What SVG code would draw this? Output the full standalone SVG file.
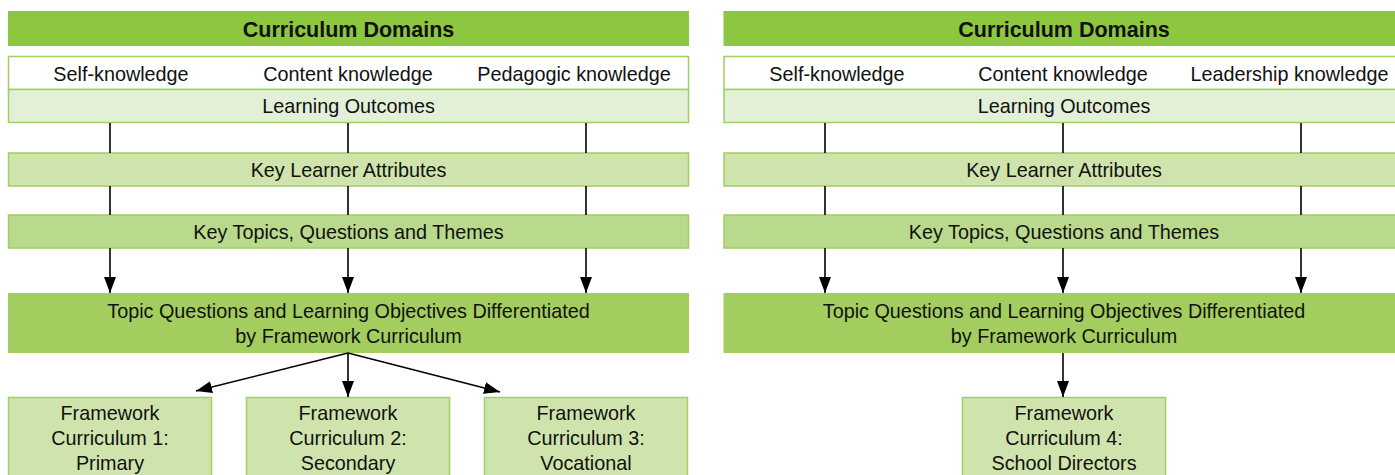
<svg xmlns="http://www.w3.org/2000/svg" width="1395" height="475" viewBox="0 0 1395 475">
<defs>
<marker id="ahb" viewBox="0 0 16 12" refX="16" refY="6" markerWidth="16" markerHeight="12" markerUnits="userSpaceOnUse" orient="auto">
<path d="M0,0 L16,6 L0,12 z" fill="#000"/>
</marker>
</defs>
<style>
text{font-family:"Liberation Sans",Arial,sans-serif;font-size:19.8px;fill:#111;text-anchor:middle}
.t{font-weight:bold;font-size:21.5px}
.hd{fill:#8dc63f}
.b{stroke:#9fd062;stroke-width:1.5}
.w{fill:#fff}
.lo{fill:#e3f0d8}
.ka{fill:#cfe4ad}
.kt{fill:#b9da8d}
.tq{fill:#a3cd5f}
.fc{fill:#cfe4ad}
.c{stroke:#000;stroke-width:1.6;fill:none}
</style>
<rect width="1395" height="475" fill="#fff"/>
<g id="left">
<g id="l-header"><rect class="hd" x="8" y="11" width="681" height="35"/><text class="t" x="348.5" y="37">Curriculum Domains</text></g>
<g id="l-domains"><rect class="w b" x="8.5" y="56.5" width="680" height="33"/>
<text x="121" y="81">Self-knowledge</text><text x="348" y="81">Content knowledge</text><text x="574" y="81">Pedagogic knowledge</text></g>
<g id="l-outcomes"><rect class="lo b" x="8.5" y="89.5" width="680" height="33"/><text x="348.5" y="113">Learning Outcomes</text></g>
<g id="l-attributes"><rect class="ka b" x="8.5" y="153" width="680" height="33"/><text x="348.5" y="177">Key Learner Attributes</text></g>
<g id="l-topics"><rect class="kt b" x="8.5" y="215" width="680" height="33"/><text x="348.5" y="239">Key Topics, Questions and Themes</text></g>
<g id="l-objectives"><rect class="tq" x="8" y="293" width="681" height="60"/><text x="348.5" y="318">Topic Questions and Learning Objectives Differentiated</text><text x="348.5" y="343">by Framework Curriculum</text></g>
<g id="l-fc1"><rect class="fc b" x="8.5" y="397.5" width="203" height="90"/><text x="110" y="420">Framework</text><text x="110" y="445">Curriculum 1:</text><text x="110" y="470">Primary</text></g>
<g id="l-fc2"><rect class="fc b" x="246.5" y="397.5" width="203" height="90"/><text x="348" y="420">Framework</text><text x="348" y="445">Curriculum 2:</text><text x="348" y="470">Secondary</text></g>
<g id="l-fc3"><rect class="fc b" x="484.5" y="397.5" width="203" height="90"/><text x="586" y="420">Framework</text><text x="586" y="445">Curriculum 3:</text><text x="586" y="470">Vocational</text></g>
</g>
<g id="right">
<g id="r-header"><rect class="hd" x="723.5" y="11" width="681" height="35"/><text class="t" x="1064" y="37">Curriculum Domains</text></g>
<g id="r-domains"><rect class="w b" x="724" y="56.5" width="680" height="33"/>
<text x="837" y="81">Self-knowledge</text><text x="1063" y="81">Content knowledge</text><text x="1289.5" y="81">Leadership knowledge</text></g>
<g id="r-outcomes"><rect class="lo b" x="724" y="89.5" width="680" height="33"/><text x="1064" y="113">Learning Outcomes</text></g>
<g id="r-attributes"><rect class="ka b" x="724" y="153" width="680" height="33"/><text x="1064" y="177">Key Learner Attributes</text></g>
<g id="r-topics"><rect class="kt b" x="724" y="215" width="680" height="33"/><text x="1064" y="239">Key Topics, Questions and Themes</text></g>
<g id="r-objectives"><rect class="tq" x="723.5" y="293" width="681" height="60"/><text x="1064" y="318">Topic Questions and Learning Objectives Differentiated</text><text x="1064" y="343">by Framework Curriculum</text></g>
<g id="r-fc4"><rect class="fc b" x="962.5" y="397.5" width="203" height="90"/><text x="1064" y="420">Framework</text><text x="1064" y="445">Curriculum 4:</text><text x="1064" y="470">School Directors</text></g>
</g>
<g id="connectors">
<path class="c" d="M110,123 V153 M348,123 V153 M586,123 V153 M110,186 V215 M348,186 V215 M586,186 V215"/>
<path class="c" d="M825,123 V153 M1063,123 V153 M1301,123 V153 M825,186 V215 M1063,186 V215 M1301,186 V215"/>
<path class="c" marker-end="url(#ahb)" d="M110,248 V293"/>
<path class="c" marker-end="url(#ahb)" d="M348,248 V293"/>
<path class="c" marker-end="url(#ahb)" d="M586,248 V293"/>
<path class="c" marker-end="url(#ahb)" d="M825,248 V293"/>
<path class="c" marker-end="url(#ahb)" d="M1063,248 V293"/>
<path class="c" marker-end="url(#ahb)" d="M1301,248 V293"/>
<path class="c" marker-end="url(#ahb)" d="M348,353 V397"/>
<path class="c" marker-end="url(#ahb)" d="M348,353 L196,391"/>
<path class="c" marker-end="url(#ahb)" d="M348,353 L500,392"/>
<path class="c" marker-end="url(#ahb)" d="M1063,353 V397"/>
</g>
</svg>
